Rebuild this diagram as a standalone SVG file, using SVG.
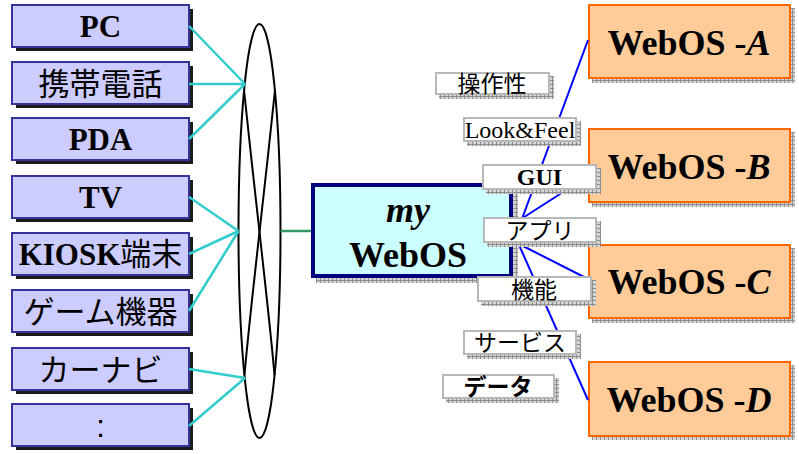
<svg xmlns="http://www.w3.org/2000/svg" width="799" height="454" viewBox="0 0 799 454">
  <defs>
    <pattern id="hatch" width="4" height="4" patternUnits="userSpaceOnUse">
      <rect width="4" height="4" fill="#d4d4d4"/>
      <path d="M0 0.5H4M0.5 0V4" stroke="#8e8e8e" stroke-width="1"/>
    </pattern>
    <style>
      .dev { fill: #ccccff; stroke: #333399; stroke-width: 2; }
      .devsh { fill: #1c1c1c; }
      .hsh { fill: url(#hatch); }
      .os { fill: #ffcc99; stroke: #ff6600; stroke-width: 2; }
      .my { fill: #ccffff; stroke: #000080; stroke-width: 4; }
      .lbl { fill: #ffffff; stroke: #b8b8b8; stroke-width: 2; }
      .serifb { font-family: "Liberation Serif", "Times New Roman", serif; font-weight: bold; fill: #000; }
      .serif { font-family: "Liberation Serif", "Times New Roman", serif; fill: #000; }
      .jp { font-family: "Noto Sans CJK JP", "Noto Sans", sans-serif; fill: #000; }
      .sans { font-family: "Liberation Sans", Arial, sans-serif; fill: #000; }
      .dt { font-size: 31px; text-anchor: middle; }
      .lt { font-size: 23px; text-anchor: middle; }
      .big { font-size: 36px; text-anchor: middle; }
      .cyan { stroke: #33cccc; stroke-width: 2.5; fill: none; }
      .blue { stroke: #0000ff; stroke-width: 2; fill: none; }
    </style>
  </defs>

  <rect width="799" height="454" fill="#ffffff"/>

  <!-- client devices -->
  <g id="dev-pc">
    <rect class="devsh" x="16" y="9" width="177" height="42"/>
    <rect class="dev" x="12" y="5" width="177" height="42"/>
    <text class="serifb dt" x="100.5" y="36.5">PC</text>
  </g>
  <g id="dev-phone">
    <rect class="devsh" x="16" y="66" width="177" height="42"/>
    <rect class="dev" x="12" y="62" width="177" height="42"/>
    <text class="jp dt" x="100.5" y="94.5">携帯電話</text>
  </g>
  <g id="dev-pda">
    <rect class="devsh" x="16" y="122" width="177" height="42"/>
    <rect class="dev" x="12" y="118" width="177" height="42"/>
    <text class="serifb dt" x="100.5" y="149.5">PDA</text>
  </g>
  <g id="dev-tv">
    <rect class="devsh" x="16" y="180" width="177" height="42"/>
    <rect class="dev" x="12" y="176" width="177" height="42"/>
    <text class="serifb dt" x="100.5" y="207.5">TV</text>
  </g>
  <g id="dev-kiosk">
    <rect class="devsh" x="16" y="237" width="177" height="42"/>
    <rect class="dev" x="12" y="233" width="177" height="42"/>
    <text class="dt" x="100.5" y="265"><tspan class="serifb">KIOSK</tspan><tspan class="jp">端末</tspan></text>
  </g>
  <g id="dev-game">
    <rect class="devsh" x="16" y="294" width="177" height="42"/>
    <rect class="dev" x="12" y="290" width="177" height="42"/>
    <text class="jp dt" x="100.5" y="322.5">ゲーム機器</text>
  </g>
  <g id="dev-navi">
    <rect class="devsh" x="16" y="352" width="177" height="42"/>
    <rect class="dev" x="12" y="348" width="177" height="42"/>
    <text class="jp dt" x="100.5" y="380.5">カーナビ</text>
  </g>
  <g id="dev-more">
    <rect class="devsh" x="16" y="408" width="177" height="42"/>
    <rect class="dev" x="12" y="404" width="177" height="42"/>
    <text class="sans dt" x="100.5" y="437">:</text>
  </g>

  <!-- network bundle -->
  <g id="bundle" fill="none" stroke="#000" stroke-width="2">
    <ellipse cx="259.5" cy="231" rx="21" ry="207"/>
    <path d="M244,90 C248,130 256,200 259.5,232 C263,264 271,334 274.5,375"/>
    <path d="M275,90 C271,130 263,200 259.5,232 C256,264 248,334 244.5,375"/>
  </g>

  <g id="connectors">
    <path class="cyan" d="M189,26 L245,84 M189,84 L245,84 M189,139 L245,84"/>
    <path class="cyan" d="M189,197 L238.5,231 M189,254 L238.5,231 M189,311 L238.5,231"/>
    <path class="cyan" d="M189,369 L245,378 M189,426 L245,378"/>
    <path d="M280.5,231 L311,231" stroke="#339966" stroke-width="2.5" fill="none"/>
  </g>

  <!-- central platform -->
  <g id="my-webos">
    <rect class="hsh" x="316" y="188" width="202" height="95"/>
    <rect class="my" x="313" y="185" width="198" height="91"/>
    <text class="serifb big" x="408" y="222" font-style="italic">my</text>
    <text class="serifb big" x="408" y="267">WebOS</text>
  </g>

  <!-- WebOS instances -->
  <g id="webos-a">
    <rect class="hsh" x="592" y="8" width="203" height="75"/>
    <rect class="os" x="589" y="5" width="201" height="73"/>
    <text class="serifb big" x="689" y="55">WebOS -<tspan font-style="italic">A</tspan></text>
  </g>
  <g id="webos-b">
    <rect class="hsh" x="592" y="132" width="203" height="75"/>
    <rect class="os" x="589" y="129" width="201" height="73"/>
    <text class="serifb big" x="689" y="179">WebOS -<tspan font-style="italic">B</tspan></text>
  </g>
  <g id="webos-c">
    <rect class="hsh" x="592" y="248" width="203" height="75"/>
    <rect class="os" x="589" y="245" width="201" height="73"/>
    <text class="serifb big" x="689" y="294">WebOS -<tspan font-style="italic">C</tspan></text>
  </g>
  <g id="webos-d">
    <rect class="hsh" x="592" y="365" width="203" height="75"/>
    <rect class="os" x="589" y="362" width="201" height="74"/>
    <text class="serifb big" x="689" y="412">WebOS -<tspan font-style="italic">D</tspan></text>
  </g>

  <g id="links">
    <path class="blue" d="M519,227 L588,40"/>
    <path class="blue" d="M518,221 L588,176"/>
    <path class="blue" d="M517,243 L588,279"/>
    <path class="blue" d="M519,245 L588,400"/>
  </g>

  <!-- aspect labels -->
  <g id="lbl-sousa">
    <rect class="hsh" x="439" y="76" width="115" height="23"/>
    <rect class="lbl" x="436" y="73" width="113" height="21"/>
    <text class="jp lt" x="492" y="91.5">操作性</text>
  </g>
  <g id="lbl-look">
    <rect class="hsh" x="467" y="121" width="114" height="25"/>
    <rect class="lbl" x="464" y="118" width="112" height="23"/>
    <text class="serif" x="520" y="137.5" font-size="24" text-anchor="middle">Look&amp;Feel</text>
  </g>
  <g id="lbl-gui">
    <rect class="hsh" x="486" y="168" width="115" height="26"/>
    <rect class="lbl" x="483" y="165" width="113" height="24"/>
    <text class="serifb" x="539.5" y="184.5" font-size="24" text-anchor="middle">GUI</text>
  </g>
  <g id="lbl-appli">
    <rect class="hsh" x="487" y="221" width="114" height="26"/>
    <rect class="lbl" x="484" y="218" width="112" height="24"/>
    <text class="jp lt" x="540" y="238.5">アプリ</text>
  </g>
  <g id="lbl-kinou">
    <rect class="hsh" x="481" y="280" width="115" height="26"/>
    <rect class="lbl" x="478" y="277" width="113" height="24"/>
    <text class="jp lt" x="534" y="297.5">機能</text>
  </g>
  <g id="lbl-service">
    <rect class="hsh" x="467" y="334" width="114" height="25"/>
    <rect class="lbl" x="464" y="331" width="112" height="23"/>
    <text class="jp lt" x="520" y="350.5">サービス</text>
  </g>
  <g id="lbl-data">
    <rect class="hsh" x="446" y="378" width="113" height="25"/>
    <rect class="lbl" x="443" y="375" width="111" height="23"/>
    <text class="jp lt" x="498" y="394.5" font-weight="bold">データ</text>
  </g>
</svg>
